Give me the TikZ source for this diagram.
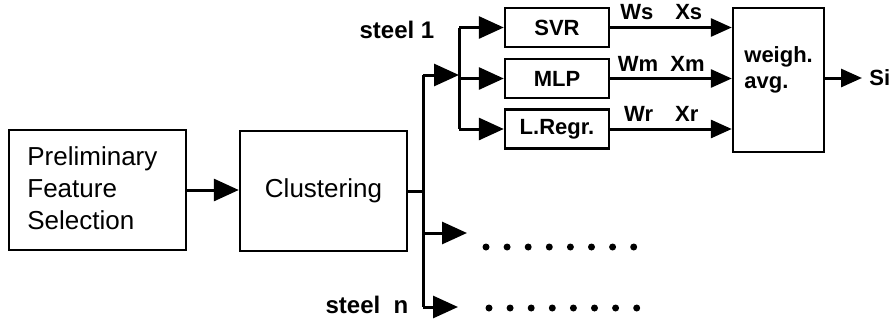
\documentclass[tikz,border=0pt]{standalone}
\usepackage{fontspec}
\setmainfont{Liberation Sans}
\usetikzlibrary{arrows.meta}

\tikzset{
  block/.style={draw, line width=1.2pt, inner sep=0pt, font=\fontsize{13}{16}\selectfont},
  model/.style={draw, line width=1.2pt, minimum width=52pt, minimum height=19.5pt, inner sep=0pt, font=\fontsize{11}{13}\selectfont\bfseries},
  wire/.style={line width=1.5pt},
  bigarrow/.style={wire, -{Triangle[length=12.5pt, width=11pt]}},
  smallarrow/.style={wire, -{Triangle[length=10.5pt, width=9pt]}},
  tag/.style={inner sep=0pt, font=\fontsize{11}{13}\selectfont\bfseries},
}

\begin{document}
\begin{tikzpicture}[x=0.5pt, y=-0.5pt]
  \useasboundingbox (0,0) rectangle (891,322);

  % first two stages
  \node[block, minimum width=88.5pt, minimum height=60pt] (pfs) at (97.5,190) {};
  \node[inner sep=0pt, anchor=west, align=left, font=\fontsize{13}{16}\selectfont] (pfstext) at (27,188) {Preliminary\\Feature\\Selection};
  \node[block, minimum width=83.5pt, minimum height=60pt] (clust) at (323.5,191) {Clustering};
  \draw[bigarrow] (pfs.east) -- (clust.west |- pfs.east);

  % the three regressors and the combiner
  \node[model] (svr) at (557,27.5) {SVR};
  \node[model] (mlp) at (557,78.5) {MLP};
  \node[model] (lr) at (557,129) {L.Regr.};
  \node[draw, line width=1.2pt, minimum width=45.5pt, minimum height=72pt] (avg) at (778.5,80) {};
  \node[tag, anchor=west, align=left] (avgtext) at (744,70) {weigh.\\avg.};

  % splitting after clustering
  \coordinate (trunk) at (423,191);
  \coordinate (up) at (423,75);
  \coordinate (mid) at (423,233);
  \coordinate (down) at (423,307);
  \coordinate (hub) at (459,75);
  \coordinate (restend) at (467,233);
  \coordinate (lastend) at (458,307);
  \draw[wire] (clust.east |- trunk) -- (trunk);
  \draw[wire] (up) -- (down);
  \draw[bigarrow] (up) -- (hub);
  \draw[bigarrow] (mid) -- (restend);
  \draw[bigarrow] (down) -- (lastend);
  \node[tag, font=\fontsize{12}{14}\selectfont\bfseries] (steel1) at (397,30) {steel 1};
  \node[tag, font=\fontsize{12}{14}\selectfont\bfseries] (steeln) at (367,305) {steel\ \ n};

  % feeding each model of steel 1
  \draw[wire] (hub |- svr.west) -- (hub |- lr.west);
  \draw[bigarrow] (hub |- svr.west) -- (svr.west);
  \draw[bigarrow] (hub |- mlp.west) -- (mlp.west);
  \draw[bigarrow] (hub |- lr.west) -- (lr.west);

  % weighted outputs
  \draw[smallarrow] (svr.east) -- (avg.west |- svr.east) node[tag, above=3pt, pos=0.42] (ws) {Ws\quad Xs};
  \draw[smallarrow] (mlp.east) -- (avg.west |- mlp.east) node[tag, above=3pt, pos=0.42] (wm) {Wm\ \ Xm};
  \draw[smallarrow] (lr.east) -- (avg.west |- lr.east) node[tag, above=3pt, pos=0.42] (wr) {Wr\quad Xr};
  \coordinate (out) at (862,78);
  \draw[smallarrow] (avg.east |- out) -- (out);
  \node[tag, anchor=west] (si) at (869,78) {Si};

  % remaining steels
  \foreach \i in {0,...,7} {
    \fill (486+21.1*\i,247) circle (3.5);
    \fill (489+21.1*\i,308) circle (3.5);
  }
\end{tikzpicture}
\end{document}
